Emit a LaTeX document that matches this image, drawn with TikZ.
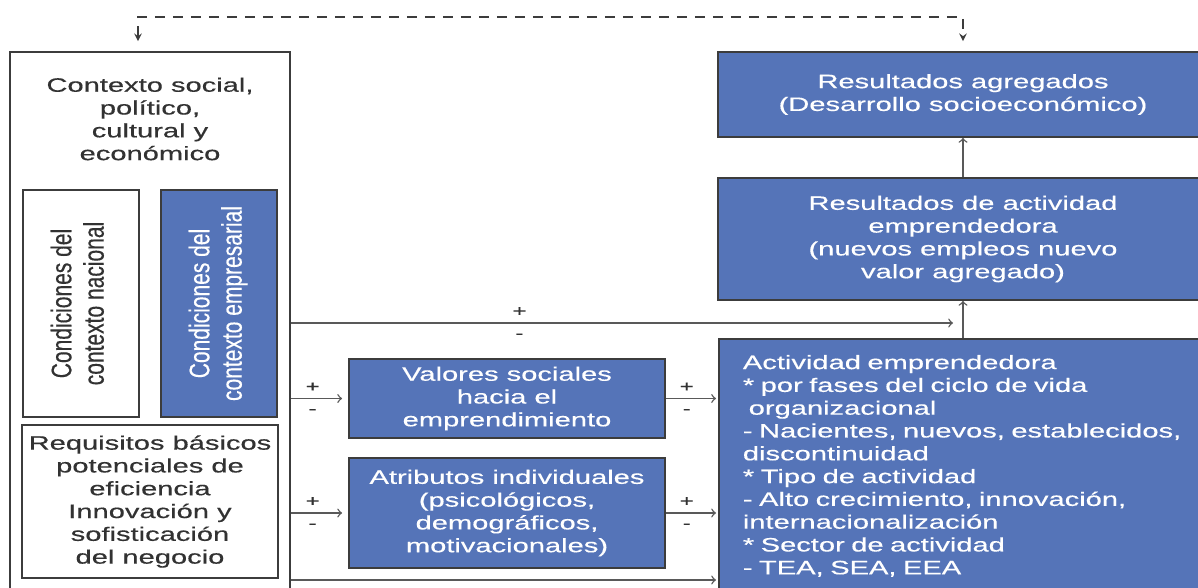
\documentclass[tikz,border=0pt]{standalone}
\usepackage{fontspec}
\setmainfont{Liberation Sans}[FakeStretch=1.5, FakeBold=0.4]
\newfontfamily\rotfont{Liberation Sans}[FakeBold=0.4]
\usepackage{graphicx}
\usetikzlibrary{arrows}
\definecolor{boxblue}{RGB}{85,116,184}
\definecolor{boxline}{RGB}{60,60,60}
\definecolor{txtgray}{RGB}{50,50,50}
\newcommand{\rotbox}[1]{\scalebox{1}[1.35]{\rotfont\fontsize{10.5}{12}\selectfont\begin{tabular}{@{}c@{}}#1\end{tabular}}}

\begin{document}
\begin{tikzpicture}[x=0.5pt, y=-0.5pt,
  font=\fontsize{9.7}{11.4}\selectfont,
  bluebox/.style={draw=boxline, line width=0.9pt, fill=boxblue, text=white, align=center, inner ysep=1pt},
  whitebox/.style={draw=boxline, line width=0.9pt, fill=white, text=txtgray, align=center, inner ysep=1pt},
  conn/.style={draw=boxline!85, line width=0.7pt, ->},
  sgn/.style={font=\fontsize{8}{8}\selectfont, text=txtgray, inner sep=1pt}]
\useasboundingbox (0,0) rectangle (1198,588);
\clip (0,0) rectangle (1198,588);
% contexto (izquierda)
\node[whitebox, minimum width=140pt, minimum height=279pt] (ctx) at (150,331) {};
\node[text=txtgray, align=center] (ctxt) at (150,119) {Contexto social,\\político,\\cultural y\\económico};
\node[whitebox, rotate=90, minimum width=113.5pt, minimum height=58pt] (nac) at (81,303.5) {\rotbox{Condiciones del\\contexto nacional}};
\node[bluebox, rotate=90, minimum width=113.5pt, minimum height=58pt] (emp) at (219,303.5) {\rotbox{Condiciones del\\contexto empresarial}};
\node[whitebox, minimum width=127pt, minimum height=76.5pt] (req) at (150,501.5) {Requisitos básicos\\potenciales de\\eficiencia\\Innovación y\\sofisticación\\del negocio};
% centro
\node[bluebox, minimum width=158pt, minimum height=39.5pt] (val) at (507,398.5) {Valores sociales\\hacia el\\emprendimiento};
\node[bluebox, minimum width=158pt, minimum height=55pt] (atr) at (507,513) {Atributos individuales\\(psicológicos,\\demográficos,\\motivacionales)};
% derecha
\node[bluebox, minimum width=245pt, minimum height=42.5pt] (ragg) at (963,94.5) {Resultados agregados\\(Desarrollo socioeconómico)};
\node[bluebox, minimum width=245pt, minimum height=61pt] (ract) at (963,239) {Resultados de actividad\\emprendedora\\(nuevos empleos nuevo\\valor agregado)};
\node[bluebox, anchor=north west, align=left, text width=230pt, inner xsep=12pt, minimum height=127pt] (act) at (718,338) {Actividad emprendedora\\{*} por fases del ciclo de vida\\\hspace{0.3em}organizacional\\- Nacientes, nuevos, establecidos,\\discontinuidad\\{*} Tipo de actividad\\- Alto crecimiento, innovación,\\internacionalización\\{*} Sector de actividad\\- TEA, SEA, EEA};
\coordinate (j) at (963,323);
\coordinate (b) at (718,580);
% conexiones
\draw[conn] (ract.north) -- (ragg.south);
\draw[conn] (act.north -| ract.south) -- (ract.south);
\draw[conn, shorten >=5pt] (j -| ctx.east) -- (j) node[sgn, pos=0.34, above=2pt] {+} node[sgn, pos=0.34, below=4pt] {-};
\draw[conn, shorten >=3pt] (val.west -| ctx.east) -- (val.west) node[sgn, pos=0.38, above=2pt] {+} node[sgn, pos=0.38, below=4pt] {-};
\draw[conn, shorten >=3pt] (atr.west -| ctx.east) -- (atr.west) node[sgn, pos=0.38, above=2pt] {+} node[sgn, pos=0.38, below=4pt] {-};
\draw[conn, shorten >=1pt] (val.east) -- (val.east -| act.west) node[sgn, pos=0.4, above=2pt] {+} node[sgn, pos=0.4, below=4pt] {-};
\draw[conn, shorten >=1pt] (atr.east) -- (atr.east -| act.west) node[sgn, pos=0.4, above=2pt] {+} node[sgn, pos=0.4, below=4pt] {-};
\draw[conn, shorten >=1pt] (b -| ctx.east) -- (b);
\draw[draw=boxline, line width=0.7pt, dash pattern=on 5pt off 4pt, <->, >=stealth] ([xshift=-6pt, yshift=5pt]ctx.north) -- ++(0,-24) -| ([yshift=5pt]ragg.north);
\end{tikzpicture}
\end{document}
